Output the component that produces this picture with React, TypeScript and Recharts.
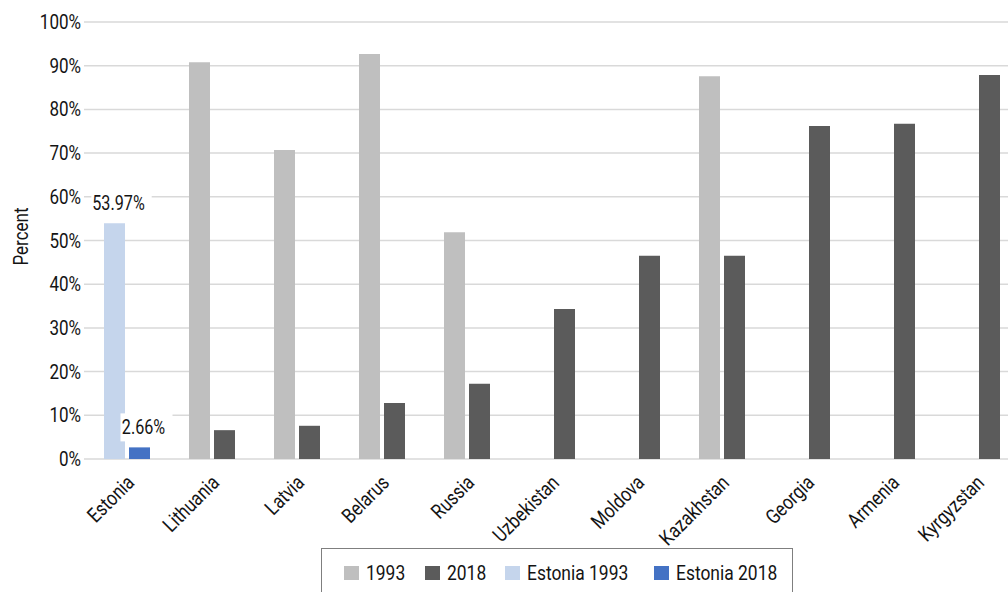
import { BarChart, Bar, XAxis, YAxis, CartesianGrid, Cell, LabelList } from "recharts";

const countries = [
  "Estonia", "Lithuania", "Latvia", "Belarus", "Russia", "Uzbekistan",
  "Moldova", "Kazakhstan", "Georgia", "Armenia", "Kyrgyzstan",
];
const values1993: (number | null)[] = [53.97, 90.8, 70.7, 92.7, 51.9, null, null, 87.6, null, null, null];
const values2018: (number | null)[] = [2.66, 6.6, 7.6, 12.8, 17.2, 34.3, 46.5, 46.5, 76.2, 76.7, 87.9];
const yTicks = [0, 10, 20, 30, 40, 50, 60, 70, 80, 90, 100];

// no narrow font installed, so Roboto gets squeezed horizontally
const FONT = "Roboto, 'Liberation Sans', sans-serif";
const NARROW = 0.83;
const INK = "#141414";

const COLORS = {
  y1993: "#bfbfbf",
  y2018: "#5b5b5b",
  est1993: "#c5d5ec",
  est2018: "#4472c4",
};

const LEGEND = [
  { label: "1993", color: COLORS.y1993, left: 22 },
  { label: "2018", color: COLORS.y2018, left: 103 },
  { label: "Estonia 1993", color: COLORS.est1993, left: 183 },
  { label: "Estonia 2018", color: COLORS.est2018, left: 332 },
];

const chartData = countries.map((name, i) => ({
  name,
  v1993: values1993[i],
  v2018: values2018[i],
}));

function NarrowText({ x, y, angle = 0, anchor = "start", size = 20.5, children }: any) {
  return (
    <text
      transform={`translate(${x}, ${y}) rotate(${angle}) scale(${NARROW}, 1)`}
      textAnchor={anchor}
      fontSize={size}
      fontFamily={FONT}
      fill={INK}
    >
      {children}
    </text>
  );
}

function CountryTick({ x, y, payload }: any) {
  return (
    <NarrowText x={x + 9} y={y + 25} angle={-45} anchor="end">
      {payload.value}
    </NarrowText>
  );
}

function PercentTick({ x, y, payload }: any) {
  return (
    <NarrowText x={x} y={y + 7} anchor="end">
      {`${payload.value}%`}
    </NarrowText>
  );
}

// value label with white box, only on the Estonia bars
function EstoniaLabel(props: any) {
  const { x, y, width, value, index } = props;
  if (index !== 0 || value == null) return null;
  const cx = x + width / 2 + 4;
  const base = y - 13;
  const text = `${Number(value).toFixed(2)}%`;
  const boxW = text.length * 8.4 + 10;
  return (
    <g>
      <rect x={cx - boxW / 2 + 3} y={base - 21} width={boxW} height={28} fill="#ffffff" />
      <NarrowText x={cx} y={base} anchor="middle" size={19.5}>
        {text}
      </NarrowText>
    </g>
  );
}

export default function App() {
  return (
    <div
      style={{
        position: "absolute",
        left: 0,
        top: 0,
        width: 1008,
        height: 592,
        overflow: "hidden",
        background: "#fff",
        fontFamily: FONT,
      }}
    >
      <BarChart
        width={1019}
        height={592}
        data={chartData}
        margin={{ top: 22, right: 0, left: 0, bottom: 53 }}
        barSize={21}
        barGap={4}
      >
        <CartesianGrid vertical={false} stroke="#d9d9d9" strokeWidth={1.5} />
        <XAxis
          dataKey="name"
          height={80}
          axisLine={false}
          tickLine={false}
          tickSize={0}
          tickMargin={0}
          interval={0}
          tick={<CountryTick />}
        />
        <YAxis
          width={84}
          domain={[0, 100]}
          ticks={yTicks}
          axisLine={false}
          tickLine={false}
          tickSize={0}
          tickMargin={3}
          tick={<PercentTick />}
          label={{
            value: "Percent",
            content: ({ viewBox }: any) => (
              <NarrowText x={28} y={viewBox.y + viewBox.height / 2 - 4} angle={-90} anchor="middle">
                Percent
              </NarrowText>
            ),
          }}
        />
        <Bar dataKey="v1993" fill={COLORS.y1993} isAnimationActive={false}>
          {chartData.map((d, i) => (
            <Cell key={d.name} fill={i === 0 ? COLORS.est1993 : COLORS.y1993} />
          ))}
          <LabelList dataKey="v1993" content={<EstoniaLabel />} />
        </Bar>
        <Bar dataKey="v2018" fill={COLORS.y2018} isAnimationActive={false}>
          {chartData.map((d, i) => (
            <Cell key={d.name} fill={i === 0 ? COLORS.est2018 : COLORS.y2018} />
          ))}
          <LabelList dataKey="v2018" content={<EstoniaLabel />} />
        </Bar>
      </BarChart>

      {/* Legend */}
      <div
        style={{
          position: "absolute",
          left: 321,
          top: 548,
          width: 472,
          height: 60,
          border: "1.5px solid #7f7f7f",
          boxSizing: "border-box",
        }}
      >
        {LEGEND.map((item) => (
          <div
            key={item.label}
            style={{ position: "absolute", left: item.left, top: 16, display: "flex", alignItems: "center", whiteSpace: "nowrap" }}
          >
            <span style={{ width: 15, height: 14, background: item.color, marginRight: 7, flexShrink: 0 }} />
            <span
              style={{
                display: "inline-block",
                fontSize: 21,
                color: INK,
                lineHeight: "16px",
                transform: `scaleX(${NARROW})`,
                transformOrigin: "left center",
              }}
            >
              {item.label}
            </span>
          </div>
        ))}
      </div>
    </div>
  );
}
